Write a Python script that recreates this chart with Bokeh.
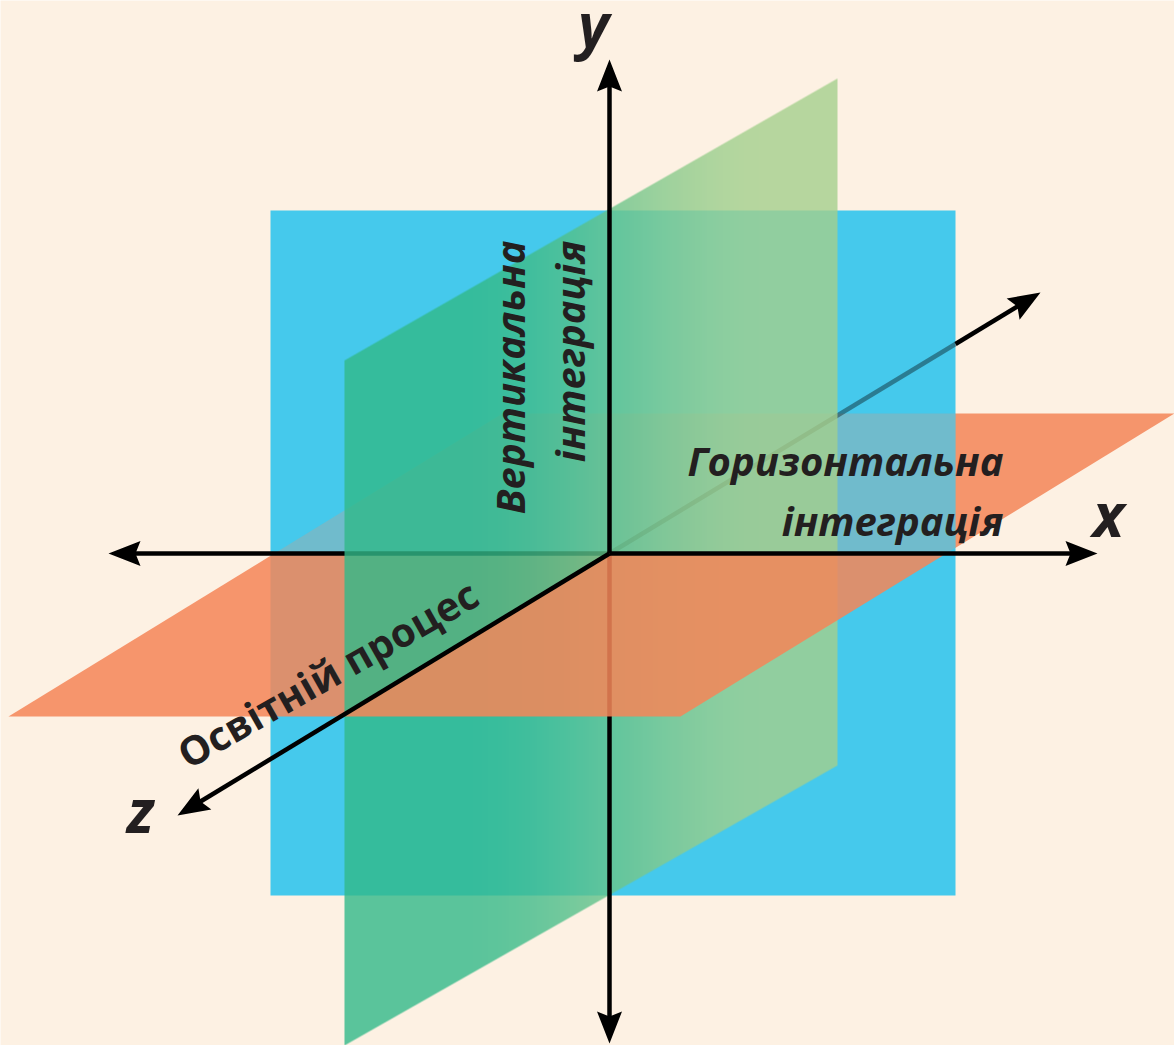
import math
import numpy as np
from bokeh.plotting import figure
from bokeh.models import Range1d, ColumnDataSource
from bokeh.core.properties import value
from bokeh.embed import file_html
from bokeh.resources import INLINE

# ---------------- diagram data (units: px, origin = crossing of the axes, y up)
BLUE_PLANE_X = [-339, 346, 346, -339]
BLUE_PLANE_Y = [343, 343, -342, -342]
GREEN_PLANE_X = [-265, 228, 228, -265]
GREEN_PLANE_Y = [193, 475, -212, -492]
ORANGE_PLANE_X = [-601, 71, 565, -107]
ORANGE_PLANE_Y = [-163, -163, 140, 140]

X_AXIS_TIPS = [(-501, 0), (488, 0)]
Y_AXIS_TIPS = [(0, -490), (0, 494)]
Z_AXIS_TIPS = [(-432, -262), (431, 261)]   # front (towards viewer), back

AXIS_NAMES = ["x", "y", "z"]
AXIS_NAME_X = [499, -16, -469]
AXIS_NAME_Y = [40, 530, -256]

ITALIC_LABELS = ["Горизонтальна", "інтеграція", "Вертикальна", "інтеграція"]
ITALIC_LABEL_X = [394, 394, -100, -40]
ITALIC_LABEL_Y = [93, 33, 313, 313]
ITALIC_LABEL_ANGLE = [0, 0, 90, 90]

Z_LABEL = ["Освітній процес"]
Z_LABEL_X = [-429]
Z_LABEL_Y = [-203]
Z_LABEL_ANGLE = [29.5]

# ---------------- styles
CREAM = "#FDF1E3"
BLUE = "#45C9EC"
ORANGE = "#F5956C"
ORANGE_FRONT = "#F48659"
GREEN_LEFT = (49, 185, 136)
GREEN_RIGHT = (164, 208, 140)
GREEN_ALPHA = 0.8
INK = "#231F20"
FONT = value("Open Sans")
AXIS_W = 4.5

W, H = 1174, 1045
OX, OY = 609, 553   # page position of the axes' crossing
p = figure(width=W, height=H, x_range=Range1d(-OX, W - OX), y_range=Range1d(OY - H, OY),
           output_backend="svg", toolbar_location=None, min_border=0,
           x_axis_location=None, y_axis_location=None,
           background_fill_color=CREAM, border_fill_color=CREAM, outline_line_color=None)
p.grid.visible = False


def clip(poly, a, b, c):
    """keep part of convex polygon where a*x + b*y + c >= 0"""
    out = []
    n = len(poly)
    for i in range(n):
        P, Q = poly[i], poly[(i + 1) % n]
        fp = a * P[0] + b * P[1] + c
        fq = a * Q[0] + b * Q[1] + c
        if fp >= 0:
            out.append(P)
        if (fp >= 0) != (fq >= 0):
            t = fp / (fp - fq)
            out.append((P[0] + t * (Q[0] - P[0]), P[1] + t * (Q[1] - P[1])))
    return out


def patch(poly, color, alpha=1.0):
    if len(poly) >= 3:
        p.patch([q[0] for q in poly], [q[1] for q in poly], fill_color=color,
                fill_alpha=alpha, line_color=None)


def seg(a, b, alpha=1.0, width=AXIS_W):
    p.line([a[0], b[0]], [a[1], b[1]], line_color="black", line_alpha=alpha,
           line_width=width, line_cap="butt")


HEAD_L, HEAD_W, HEAD_N = 32, 12.5, 5


def unit(a, b):
    dx, dy = b[0] - a[0], b[1] - a[1]
    l = math.hypot(dx, dy)
    return dx / l, dy / l


def head(tip, frm):
    dx, dy = unit(frm, tip)
    nx, ny = -dy, dx
    tx, ty = tip
    pts = [(tx, ty),
           (tx - HEAD_L * dx + HEAD_W * nx, ty - HEAD_L * dy + HEAD_W * ny),
           (tx - (HEAD_L - HEAD_N) * dx, ty - (HEAD_L - HEAD_N) * dy),
           (tx - HEAD_L * dx - HEAD_W * nx, ty - HEAD_L * dy - HEAD_W * ny)]
    patch(pts, "black")


def shaft_end(tip, frm):
    dx, dy = unit(frm, tip)
    return (tip[0] - 0.6 * HEAD_L * dx, tip[1] - 0.6 * HEAD_L * dy)


O = (0.0, 0.0)
blue = list(zip(BLUE_PLANE_X, BLUE_PLANE_Y))
orange = list(zip(ORANGE_PLANE_X, ORANGE_PLANE_Y))
bx0, bx1 = min(BLUE_PLANE_X), max(BLUE_PLANE_X)
by0, by1 = min(BLUE_PLANE_Y), max(BLUE_PLANE_Y)

orange_back = clip(orange, 0, 1, 0)
orange_front = clip(orange, 0, -1, 0)
zb = Z_AXIS_TIPS[1]
k = zb[1] / zb[0]
front_left = clip(orange_front, -k, 1, 0)
front_right = clip(orange_front, k, -1, 0)
back_in_blue = clip(clip(orange_back, -1, 0, bx1), 1, 0, -bx0)

# 1. back half of the horizontal plane
patch(orange_back, ORANGE)
# 2. vertical xy plane
patch(blue, BLUE)
# 3. back half seen through the blue plane
patch(back_in_blue, ORANGE, 0.25)
# 4. back part of z axis (hidden behind the blue plane)
t_edge = min(bx1 / zb[0], by1 / zb[1])
z_edge = (zb[0] * t_edge, zb[1] * t_edge)
seg(O, z_edge, alpha=0.38)
seg(z_edge, shaft_end(zb, O))
# 5. front-left quarter of the horizontal plane
patch(front_left, ORANGE_FRONT, 0.86)
# 6. left part of x axis
seg(O, shaft_end(X_AXIS_TIPS[0], O))

# 7. yz plane with a horizontal colour gradient (one RGBA image, edge-antialiased)
gx0, gx1 = GREEN_PLANE_X[0], GREEN_PLANE_X[1]
gy0, gy1 = int(math.floor(min(GREEN_PLANE_Y))), int(math.ceil(max(GREEN_PLANE_Y)))
nx, ny = gx1 - gx0, gy1 - gy0
xc = gx0 + np.arange(nx) + 0.5
top = GREEN_PLANE_Y[0] + (xc - gx0) * (GREEN_PLANE_Y[1] - GREEN_PLANE_Y[0]) / (gx1 - gx0)
bot = GREEN_PLANE_Y[3] + (xc - gx0) * (GREEN_PLANE_Y[2] - GREEN_PLANE_Y[3]) / (gx1 - gx0)
ylo = gy0 + np.arange(ny)[:, None]
cover = np.clip(np.minimum(top[None, :], ylo + 1) - np.maximum(bot[None, :], ylo), 0, 1)
gs, ge = -149, 161
u = np.clip((xc - gs) / (ge - gs), 0, 1)
t = u * u * (3 - 2 * u)
img = np.zeros((ny, nx), dtype=np.uint32)
view = img.view(dtype=np.uint8).reshape((ny, nx, 4))
for ch in range(3):
    view[:, :, ch] = np.round(GREEN_LEFT[ch] + t * (GREEN_RIGHT[ch] - GREEN_LEFT[ch]))[None, :]
view[:, :, 3] = np.round(255 * GREEN_ALPHA * cover).astype(np.uint8)
p.image_rgba(image=[img], x=gx0, y=gy0, dw=nx, dh=ny)

# 8. y axis
seg(shaft_end(Y_AXIS_TIPS[0], O), shaft_end(Y_AXIS_TIPS[1], O))
# 9. front-right quarter of horizontal plane
patch(front_right, ORANGE_FRONT, 0.86)
# 10. remaining axis parts
seg(O, shaft_end(X_AXIS_TIPS[1], O))
seg(O, shaft_end(Z_AXIS_TIPS[0], O))
for tips in (X_AXIS_TIPS, Y_AXIS_TIPS, Z_AXIS_TIPS):
    head(tips[0], O)
    head(tips[1], O)

# 11. texts
p.text(x="x", y="y", text="t", source=ColumnDataSource(dict(x=AXIS_NAME_X, y=AXIS_NAME_Y, t=AXIS_NAMES)),
       text_font=FONT, text_font_size="60px", text_font_style="bold italic",
       text_align="center", text_baseline="alphabetic", text_color=INK)
p.text(x="x", y="y", text="t", angle="a",
       source=ColumnDataSource(dict(x=ITALIC_LABEL_X, y=ITALIC_LABEL_Y, t=ITALIC_LABELS,
                                    a=[math.radians(v) for v in ITALIC_LABEL_ANGLE])),
       text_font=FONT, text_font_size="40px", text_font_style="bold italic",
       text_align="right", text_baseline="alphabetic", text_color=INK)
p.text(x="x", y="y", text="t", angle="a",
       source=ColumnDataSource(dict(x=Z_LABEL_X, y=Z_LABEL_Y, t=Z_LABEL,
                                    a=[math.radians(v) for v in Z_LABEL_ANGLE])),
       text_font=FONT, text_font_size="40px", text_font_style="bold",
       text_align="left", text_baseline="alphabetic", text_color=INK)

open("out.html", "w").write(file_html(p, INLINE))
